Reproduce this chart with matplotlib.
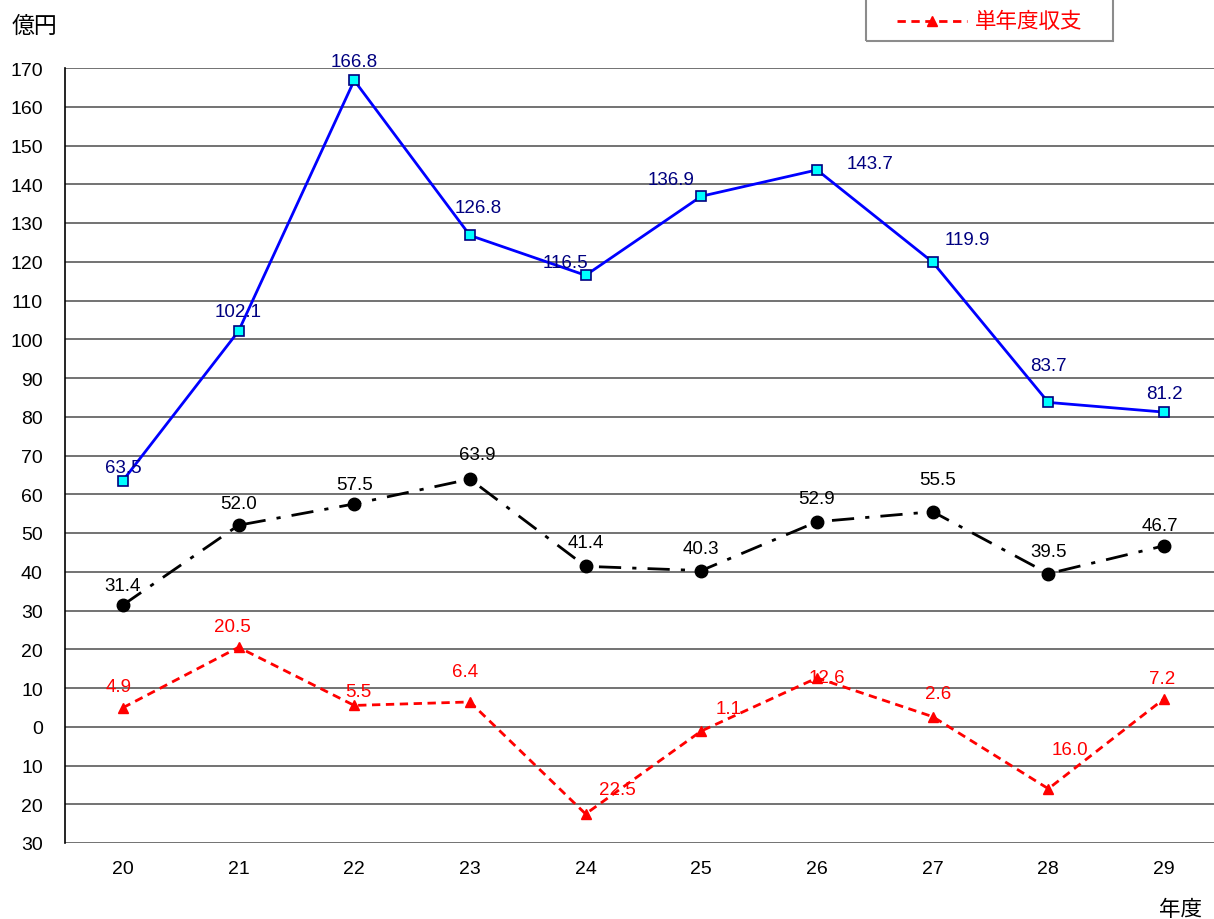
import matplotlib
matplotlib.use("Agg")
import matplotlib.pyplot as plt
from matplotlib.lines import Line2D
from matplotlib.patches import Rectangle
from matplotlib.ticker import FixedLocator, FuncFormatter

plt.rcParams['font.family'] = ['Liberation Sans', 'Noto Sans CJK JP', 'DejaVu Sans']

# Fiscal years (Heisei)
years = [20, 21, 22, 23, 24, 25, 26, 27, 28, 29]

# Series values (億円)
series_blue = [63.5, 102.1, 166.8, 126.8, 116.5, 136.9, 143.7, 119.9, 83.7, 81.2]
series_black = [31.4, 52.0, 57.5, 63.9, 41.4, 40.3, 52.9, 55.5, 39.5, 46.7]
single_year_balance = [4.9, 20.5, 5.5, 6.4, -22.5, -1.1, 12.6, 2.6, -16.0, 7.2]

y_ticks = list(range(-30, 171, 10))
legend_label = "単年度収支"

# Label offsets in pixels (dx, dy) for each point
off_blue = [(0, 13), (0, 20), (0, 19), (8, 28), (-20, 13), (-30, 17), (53, 6), (35, 23), (0, 37), (0, 19)]
off_black = [(0, 20), (0, 22), (0, 19), (7, 25), (0, 24), (0, 22), (0, 23), (5, 32), (0, 22), (-4, 20)]
off_red = [(-4, 21), (-6, 21), (4, 14), (-5, 30), (32, 24), (27, 23), (10, 0), (5, 23), (22, 39), (-2, 20)]

W, H = 1214, 920
fig = plt.figure(figsize=(W / 100, H / 100), dpi=100)
ax = fig.add_axes([65 / W, (H - 844) / H, (W - 65) / W, (844 - 69) / H])

ax.set_xlim(19.5, 29 + (W - 1164) / 115.8)
ax.set_ylim(-30, 170)

ax.plot(years, series_blue, color='#0000FF', lw=2, marker='s', ms=6.5,
        mfc='#00FFFF', mec='#000080', mew=1.2, zorder=4)
ax.plot(years, series_black, color='black', lw=2, ls=(0, (8, 4, 1.5, 4)),
        marker='o', ms=9, mfc='black', mec='black', zorder=4)
ax.plot(years, single_year_balance, color='#FF0000', lw=2, ls=(0, (3, 2)),
        marker='^', ms=6.5, mfc='#FF0000', mec='#FF0000', zorder=4)

px = 0.72  # points per pixel at 100 dpi
for x, v, (dx, dy) in zip(years, series_blue, off_blue):
    ax.annotate(f"{v:.1f}", (x, v), xytext=(dx * px, dy * px), textcoords='offset points',
                ha='center', va='center', fontsize=13.5, color='#000080', zorder=5)
for x, v, (dx, dy) in zip(years, series_black, off_black):
    ax.annotate(f"{v:.1f}", (x, v), xytext=(dx * px, dy * px), textcoords='offset points',
                ha='center', va='center', fontsize=13.5, color='black', zorder=5)
for x, v, (dx, dy) in zip(years, single_year_balance, off_red):
    ax.annotate(f"{abs(v):.1f}", (x, v), xytext=(dx * px, dy * px), textcoords='offset points',
                ha='center', va='center', fontsize=13.5, color='#FF0000', zorder=5)

ax.yaxis.set_major_locator(FixedLocator(y_ticks))
ax.yaxis.set_major_formatter(FuncFormatter(lambda v, p: f"{abs(int(round(v)))}"))
ax.set_xticks(years)
ax.set_xticklabels([str(y) for y in years])
ax.tick_params(axis='y', length=0, pad=16, labelsize=14)
ax.tick_params(axis='x', length=0, pad=12, labelsize=14)
ax.grid(axis='y', color='#5a5a5a', lw=1.2)
ax.set_axisbelow(True)
for s in ['top', 'right', 'bottom']:
    ax.spines[s].set_visible(False)
ax.spines['left'].set_color('black')
ax.spines['left'].set_linewidth(1.2)

fig.text(12 / W, (H - 26) / H, "億円", fontsize=16.5, ha='left', va='center')
fig.text(1180 / W, (H - 911) / H, "年度", fontsize=15.5, ha='center', va='center')

# Legend box
fig.patches.append(Rectangle((866 / W, (H - 42) / H), 247 / W, 60 / H,
                             transform=fig.transFigure, fill=False,
                             edgecolor='#8c8c8c', lw=1.5))
ly = (H - 22) / H
fig.lines.append(Line2D([897 / W, 932 / W, 967 / W], [ly, ly, ly], transform=fig.transFigure,
                        color='#FF0000', lw=2, ls=(0, (3, 2)), marker='^', ms=6.5,
                        markevery=[1], mfc='#FF0000', mec='#FF0000'))
fig.text(975 / W, ly, legend_label, fontsize=15.5, color='#FF0000', ha='left', va='center')

fig.savefig("out.png", dpi=100)
